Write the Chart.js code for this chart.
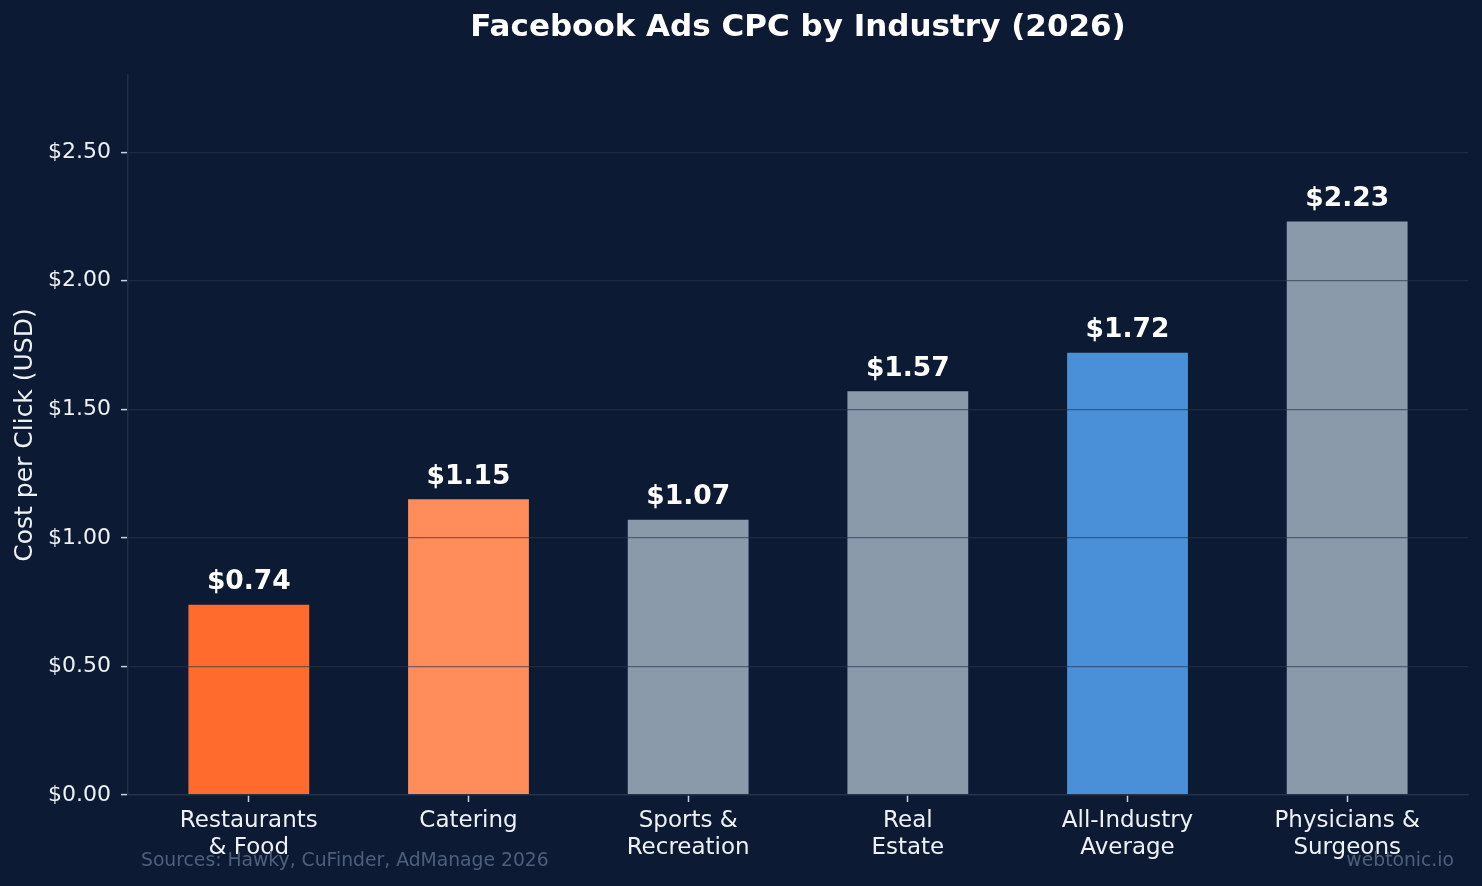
<!DOCTYPE html>
<html>
<head>
<meta charset="utf-8">
<script src="https://cdn.jsdelivr.net/npm/chart.js@4"></script>
<style>
  html, body { margin: 0; padding: 0; background: #0c1b33; }
</style>
</head>
<body>
<canvas id="cpc" width="1482" height="886"></canvas>
<script>
// data
const industries = [
  ["Restaurants", "& Food"],
  ["Catering"],
  ["Sports &", "Recreation"],
  ["Real", "Estate"],
  ["All-Industry", "Average"],
  ["Physicians &", "Surgeons"]
];
const cpc = [0.74, 1.15, 1.07, 1.57, 1.72, 2.23];
const barColors = ["#ff6b2c", "#ff8c5a", "#8a9aaa", "#8a9aaa", "#4a90d9", "#8a9aaa"];
const yTicks = [0, 0.5, 1, 1.5, 2, 2.5];

const FONT = "'DejaVu Sans', sans-serif";
const TEXT = "#eef1f5";
const SPINE = "#1f2e48";

// titulo centrado sobre el area, etiquetas encima de cada barra y pie de pagina
const labelsPlugin = {
  id: "labels",
  beforeDraw(chart) {
    const c = chart.ctx;
    c.save();
    c.fillStyle = "#0c1b33";
    c.fillRect(0, 0, chart.width, chart.height);
    c.restore();
  },
  afterDraw(chart) {
    const c = chart.ctx;
    const area = chart.chartArea;
    const meta = chart.getDatasetMeta(0);
    c.save();
    c.fillStyle = "#ffffff";
    c.textAlign = "center";
    c.textBaseline = "middle";
    c.font = "bold 31px " + FONT;
    c.fillText("Facebook Ads CPC by Industry (2026)", (area.left + area.right) / 2, 28);

    c.font = "bold 26.5px " + FONT;
    c.textBaseline = "bottom";
    meta.data.forEach((bar, i) => {
      c.fillText("$" + cpc[i].toFixed(2), bar.x, bar.y - 9);
    });

    c.font = "18.75px " + FONT;
    c.fillStyle = "#4e5f7a";
    c.textBaseline = "alphabetic";
    c.textAlign = "left";
    c.fillText("Sources: Hawky, CuFinder, AdManage 2026", 141, 866);
    c.textAlign = "right";
    c.fillText("webtonic.io", 1454, 866);
    c.restore();
  }
};

new Chart(document.getElementById("cpc").getContext("2d"), {
  type: "bar",
  data: {
    datasets: [{
      data: cpc.map((v, i) => ({ x: i, y: v })),
      backgroundColor: barColors,
      borderWidth: 0,
      barPercentage: 0.55,
      categoryPercentage: 1
    }]
  },
  options: {
    responsive: false,
    animation: false,
    devicePixelRatio: 1,
    layout: { padding: { left: 0, right: 14, top: 75, bottom: 0 } },
    plugins: {
      legend: { display: false },
      tooltip: { enabled: false },
      title: { display: false }
    },
    scales: {
      x: {
        type: "linear",
        min: -0.55,
        max: 5.55,
        offset: false,
        afterBuildTicks: (s) => { s.ticks = cpc.map((v, i) => ({ value: i })); },
        afterFit: (s) => { s.height = 91; },
        ticks: {
          autoSkip: false,
          maxRotation: 0,
          padding: 5,
          color: TEXT,
          font: { family: FONT, size: 23 },
          callback: (v) => industries[v]
        },
        grid: { z: 1, offset: false, drawOnChartArea: false, tickLength: 7, tickColor: "#c8d0da", tickWidth: 1.5 },
        border: { color: SPINE, width: 1.5, z: 1 }
      },
      y: {
        min: 0,
        max: 2.8,
        afterBuildTicks: (s) => { s.ticks = yTicks.map((v) => ({ value: v })); },
        afterFit: (s) => { s.width = 128; },
        ticks: {
          padding: 10,
          color: TEXT,
          font: { family: FONT, size: 22 },
          callback: (v) => "$" + Number(v).toFixed(2)
        },
        // rejilla por encima de las barras
        grid: { z: 1, color: "rgba(40,54,76,0.6)", lineWidth: 1.2, tickLength: 7, tickColor: "#c8d0da", tickWidth: 1.5 },
        border: { color: SPINE, width: 1.5, z: 1 },
        title: {
          display: true,
          text: "Cost per Click (USD)",
          color: TEXT,
          font: { family: FONT, size: 25 },
          padding: { top: 10, bottom: 0 }
        }
      }
    }
  },
  plugins: [labelsPlugin]
});
</script>
</body>
</html>
